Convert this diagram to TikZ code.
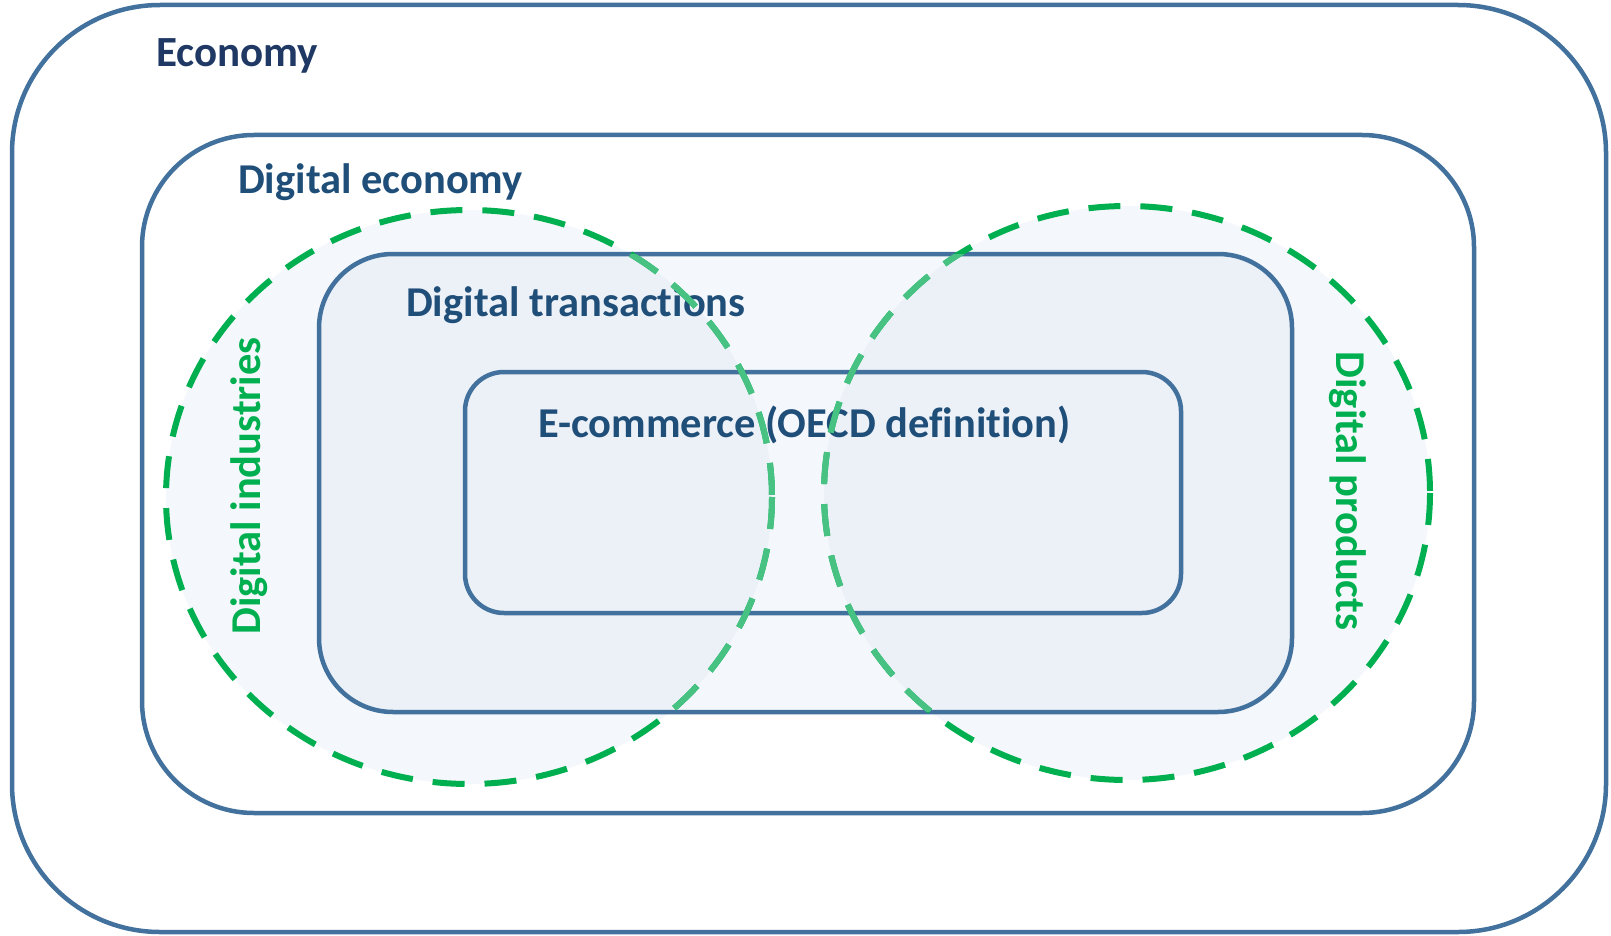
\documentclass[tikz,border=0pt]{standalone}
\usepackage{fontspec}
\setmainfont{Carlito}[Ligatures=NoCommon]
\definecolor{boxblue}{HTML}{41719C}
\definecolor{navy}{HTML}{1F3864}
\definecolor{txtblue}{HTML}{1F4E79}
\definecolor{dgreen}{HTML}{00B050}
\definecolor{lgreen}{HTML}{47C283}
\definecolor{tfill}{HTML}{F4F7FB}
\definecolor{cfill}{HTML}{DCE6F2}
\begin{document}
\begin{tikzpicture}[x=1pt,y=-1pt,
  frame/.style={draw=boxblue, line width=4.5pt},
  ring/.style={line width=6pt, dash pattern=on 32pt off 20pt},
  lbl/.style={font=\bfseries\fontsize{42.5}{44}\selectfont, text=txtblue, inner sep=0pt},
  glbl/.style={font=\bfseries\fontsize{42.5}{44}\selectfont, text=dgreen, inner sep=0pt}]
\useasboundingbox (0,0) rectangle (1611,936);
\fill[white] (0,0) rectangle (1611,936);
\draw[frame, rounded corners=148pt] (12,5) rectangle (1606,932);
\draw[frame, rounded corners=112pt] (142,135) rectangle (1474,813);
\fill[tfill, rounded corners=74pt] (319,254) rectangle (1292,712);
\fill[cfill, fill opacity=0.3] (469,497) ellipse [x radius=303, y radius=287];
\fill[cfill, fill opacity=0.3] (1127,493) ellipse [x radius=303, y radius=287];
\draw[frame, rounded corners=74pt] (319,254) rectangle (1292,712);
\draw[frame, rounded corners=39pt] (465,372) rectangle (1181,613);
\node[lbl, text=navy, font=\bfseries\fontsize{43}{45}\selectfont, anchor=base west] (econ) at (156,67) {Economy};
\node[lbl, anchor=base west] (digeco) at (238,194) {Digital economy};
\node[lbl, anchor=base west] (digtr) at (406,316) {Digital transactions};
\node[lbl, anchor=base west] (ecom) at (538,437) {E-commerce (OECD definition)};
\node[glbl, rotate=90] (digind) at (249,486) {Digital industries};
\node[glbl, rotate=-90] (digprod) at (1348,491) {Digital products};
\draw[ring, dgreen] (469,497) ellipse [x radius=303, y radius=287];
\draw[ring, dgreen] (1127,493) ellipse [x radius=303, y radius=287];
\begin{scope}
\clip[rounded corners=74pt] (319,254) rectangle (1292,712);
\draw[ring, lgreen] (469,497) ellipse [x radius=303, y radius=287];
\draw[ring, lgreen] (1127,493) ellipse [x radius=303, y radius=287];
\end{scope}
\end{tikzpicture}
\end{document}
